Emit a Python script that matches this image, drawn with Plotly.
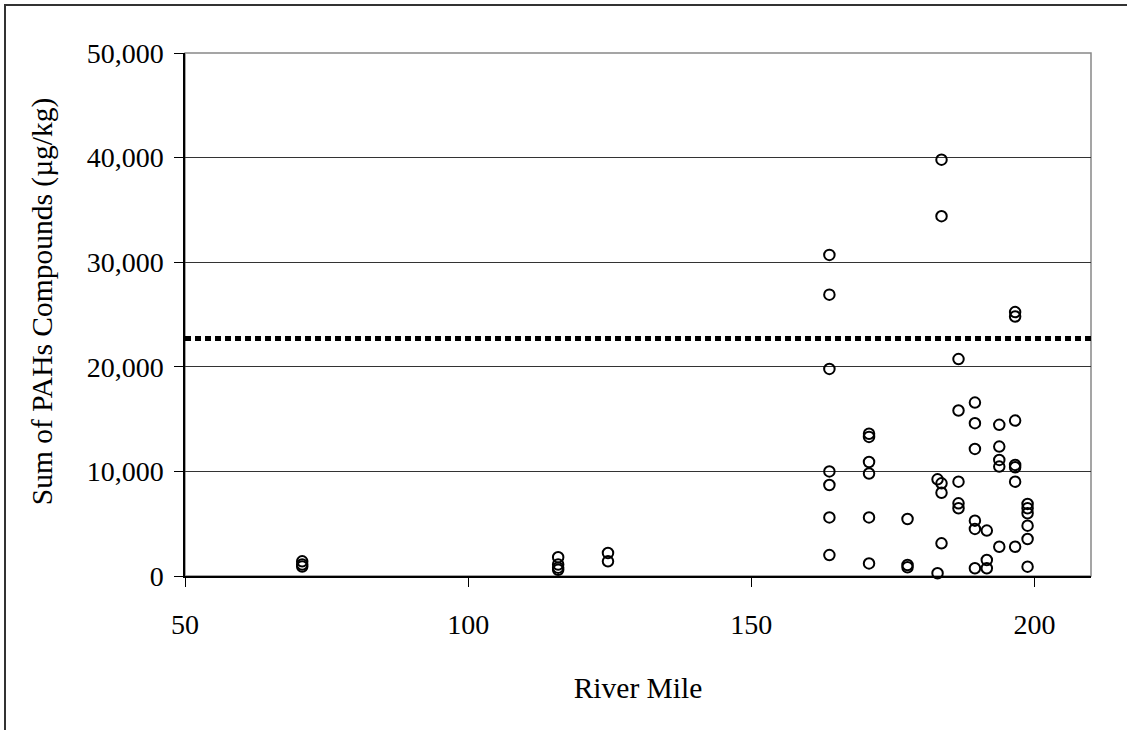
import plotly.graph_objects as go

# River mile columns and PAH sums (ug/kg)
mile_70 = 70.7
pah_70 = [1400, 1100, 900]
mile_116 = 115.9
pah_116 = [1800, 1100, 800, 600]
mile_125 = 124.7
pah_125 = [2200, 1400]
mile_164 = 163.8
pah_164 = [30700, 26900, 19800, 10000, 8700, 5600, 2000]
mile_171 = 170.8
pah_171 = [13600, 13300, 10900, 9800, 5600, 1200]
mile_178 = 177.6
pah_178 = [5450, 1050, 830]
mile_183a = 182.9
pah_183a = [9240, 260]
mile_183b = 183.6
pah_183b = [39800, 34400, 8860, 7960, 3120]
mile_187 = 186.6
pah_187 = [20740, 15820, 9020, 6950, 6480]
mile_190 = 189.5
pah_190 = [16580, 14610, 12150, 5290, 4500, 740]
mile_192 = 191.6
pah_192 = [4340, 1530, 740]
mile_194 = 193.8
pah_194 = [14450, 12370, 11100, 10460, 2800]
mile_197 = 196.6
pah_197 = [25230, 24810, 14860, 10620, 10400, 9020, 2800]
mile_199 = 198.8
pah_199 = [6890, 6480, 6000, 4810, 3540, 890]

threshold = 22700
x_range = [50, 210]
y_ticks = [0, 10000, 20000, 30000, 40000, 50000]
x_ticks = [50, 100, 150, 200]
x_title = "River Mile"
y_title = "Sum of PAHs Compounds (µg/kg)"

columns = [
    (mile_70, pah_70), (mile_116, pah_116), (mile_125, pah_125),
    (mile_164, pah_164), (mile_171, pah_171), (mile_178, pah_178),
    (mile_183a, pah_183a), (mile_183b, pah_183b), (mile_187, pah_187),
    (mile_190, pah_190), (mile_192, pah_192), (mile_194, pah_194),
    (mile_197, pah_197), (mile_199, pah_199),
]
xs, ys = [], []
for m, vals in columns:
    for v in vals:
        xs.append(m)
        ys.append(v)

W, H = 1127, 730
L, R, T, B = 185, 1091, 53, 576.5
FONT = "Liberation Serif, Times New Roman, serif"
TICK_SIZE = 28
TITLE_SIZE = 29.5

fig = go.Figure()
fig.add_trace(go.Scatter(
    x=x_range, y=[threshold, threshold], mode="lines",
    line=dict(color="black", width=5, dash="6px,4px"),
    hoverinfo="skip", showlegend=False, cliponaxis=False,
))
fig.add_trace(go.Scatter(
    x=xs, y=ys, mode="markers",
    marker=dict(symbol="circle-open", size=10.5, color="black",
                line=dict(width=2, color="black")),
    showlegend=False, cliponaxis=False,
))

pw = R - L
ph = B - T
def px2paper_x(px):
    return (px - L) / pw
def px2paper_y(py):
    return (B - py) / ph

# outer chart border (clipped at page edge)
fig.add_shape(type="rect", xref="paper", yref="paper",
              x0=px2paper_x(5), x1=px2paper_x(W + 20),
              y0=px2paper_y(H + 20), y1=px2paper_y(5),
              line=dict(color="#333333", width=2), layer="below")
# plot area border (gray)
fig.add_shape(type="rect", xref="paper", yref="paper",
              x0=0, x1=1, y0=0, y1=1,
              line=dict(color="#888888", width=1.5), layer="below")

# y-axis title as rotated annotation
fig.add_annotation(
    text=y_title, xref="paper", yref="paper",
    x=px2paper_x(42), y=px2paper_y(301.5),
    xanchor="center", yanchor="middle", textangle=-90,
    showarrow=False, font=dict(family=FONT, size=TITLE_SIZE, color="black"),
)

fig.update_layout(
    width=W, height=H,
    margin=dict(l=L, r=W - R, t=T, b=H - B, pad=0),
    paper_bgcolor="white", plot_bgcolor="white",
    font=dict(family=FONT, size=TICK_SIZE, color="black"),
    xaxis=dict(
        range=x_range, tickvals=x_ticks, ticks="outside", ticklen=9,
        tickcolor="black", tickwidth=1, ticklabelstandoff=14,
        showline=True, linecolor="black", linewidth=1.5,
        showgrid=False, zeroline=False,
        title=dict(text=x_title, standoff=38,
                   font=dict(family=FONT, size=TITLE_SIZE)),
        tickfont=dict(family=FONT, size=TICK_SIZE),
    ),
    yaxis=dict(
        range=[0, 50000], tickvals=y_ticks, tickformat=",d",
        ticks="outside", ticklen=9, tickcolor="black", tickwidth=1,
        ticklabelstandoff=5,
        showline=True, linecolor="black", linewidth=1.5,
        showgrid=True, gridcolor="#333333", gridwidth=1,
        zeroline=False,
        tickfont=dict(family=FONT, size=TICK_SIZE),
    ),
)

fig.write_html("out.html")
